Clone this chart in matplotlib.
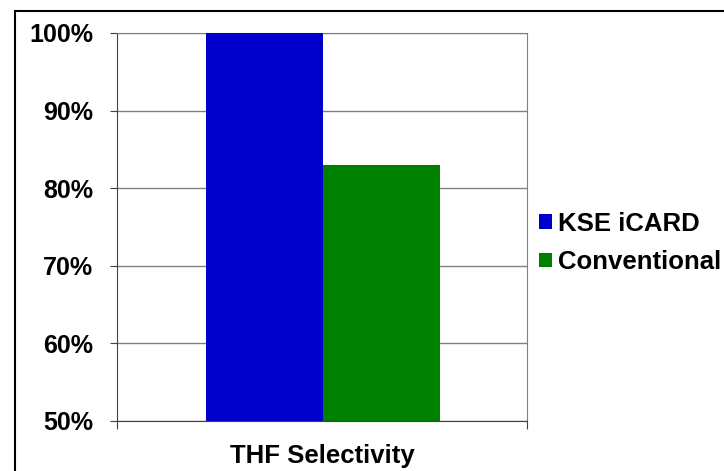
"""THF selectivity: KSE iCARD vs conventional, single-category bar chart."""

import matplotlib.pyplot as plt
from matplotlib.patches import Rectangle, Patch
from matplotlib.ticker import PercentFormatter

CATEGORY = "THF Selectivity"
SERIES = ["KSE iCARD", "Conventional"]
VALUES = [100, 83]
COLORS = ["#0000CC", "#008000"]
YTICKS = [50, 60, 70, 80, 90, 100]

plt.rcParams["font.family"] = ["Liberation Sans", "DejaVu Sans"]
plt.rcParams["font.weight"] = "bold"

W, H = 724, 471
fig = plt.figure(figsize=(W / 100, H / 100), dpi=100)
ax = fig.add_axes([117 / W, 1 - 421 / H, 410 / W, 388 / H])

# outer frame of the original slide graphic
fig.patches.append(Rectangle((15 / W, -0.05), 1.1, 1 - 11 / H + 0.05,
                             transform=fig.transFigure, fill=False,
                             edgecolor="black", linewidth=1.5))

bar_w = 0.286
offsets = [-bar_w / 2 + 0.003, bar_w / 2 + 0.003]
for name, val, col, off in zip(SERIES, VALUES, COLORS, offsets):
    ax.bar(off, val - 50, bottom=50, width=bar_w, color=col, label=name, zorder=3)

ax.set_xlim(-0.5, 0.5)
ax.set_ylim(50, 100)
ax.set_yticks(YTICKS)
ax.yaxis.set_major_formatter(PercentFormatter(decimals=0))
ax.grid(axis="y", color="#808080", linewidth=1, zorder=0)
ax.set_xticks([-0.5, 0.5])
ax.set_xticklabels(["", ""])
ax.tick_params(axis="x", direction="out", length=6, color="#404040")
ax.tick_params(axis="y", direction="out", length=5, color="#404040",
               labelsize=18, pad=12)
ax.set_xlabel(CATEGORY, fontsize=18.5, fontweight="bold", labelpad=7)

for side in ["top", "right"]:
    ax.spines[side].set_color("#808080")
ax.spines["left"].set_color("#404040")
ax.spines["bottom"].set_color("#404040")

handles = [Patch(facecolor=c, label=s) for s, c in zip(SERIES, COLORS)]
fig.legend(handles=handles, loc="center left", bbox_to_anchor=(539 / W, 1 - 243 / H),
           frameon=False, fontsize=18.5, handlelength=0.5, handleheight=0.5,
           handletextpad=0.25, labelspacing=0.55, borderpad=0, borderaxespad=0)

fig.savefig("out.png", dpi=100)
